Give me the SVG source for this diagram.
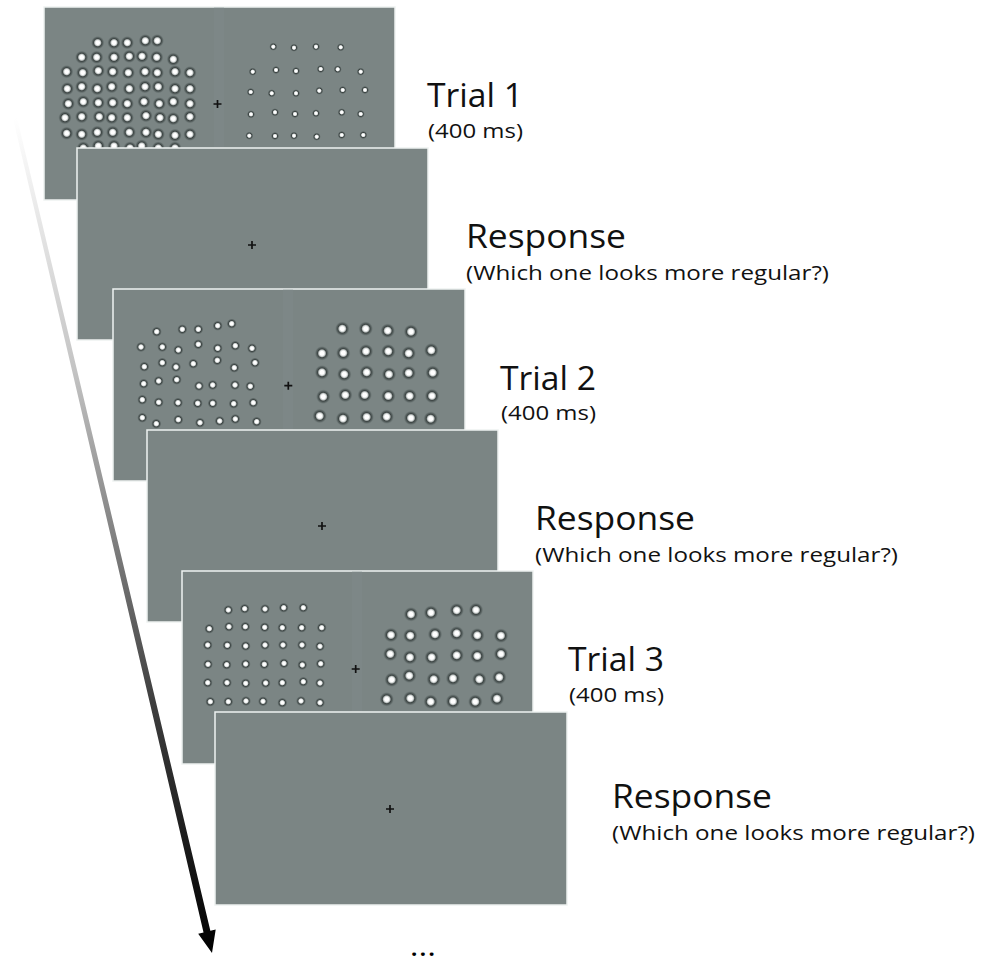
<svg xmlns="http://www.w3.org/2000/svg" width="992" height="957" viewBox="0 0 992 957">
<defs>
<radialGradient id="dot" cx="0.5" cy="0.5" r="0.5">
<stop offset="0" stop-color="#ffffff"/>
<stop offset="0.26" stop-color="#ffffff"/>
<stop offset="0.42" stop-color="#c9cecd"/>
<stop offset="0.58" stop-color="#3c4443"/>
<stop offset="0.78" stop-color="#56605f" stop-opacity="0.75"/>
<stop offset="1" stop-color="#7b8584" stop-opacity="0"/>
</radialGradient>
<linearGradient id="arrowGrad" gradientUnits="userSpaceOnUse" x1="15" y1="118" x2="212" y2="953">
<stop offset="0" stop-color="#ffffff"/>
<stop offset="0.3" stop-color="#c4c4c4"/>
<stop offset="0.7" stop-color="#3e3e3e"/>
<stop offset="1" stop-color="#000000"/>
</linearGradient>
</defs>
<style>
.panel{fill:#7b8584;stroke:#eef2f1;stroke-width:1.5}
.band{fill:#858f8e;opacity:0.25}
.fix{stroke:#111;stroke-width:1.7;fill:none}
.d{fill:url(#dot)}
.big{font-family:"Open Sans","Liberation Sans",sans-serif;font-size:32px;fill:#111}
.small{font-family:"Open Sans","Liberation Sans",sans-serif;font-size:20.5px;fill:#111}
.ell{font-family:"Open Sans","Liberation Sans",sans-serif;font-size:22px;font-weight:bold;fill:#000;letter-spacing:2.5px}
</style>
<rect width="992" height="957" fill="#ffffff"/>

<g id="connectors">
<polygon fill="url(#arrowGrad)" points="13.05,118.46 16.95,117.54 210.36,930.8 215.71,929.53 212,953 198.19,933.67 203.54,932.4"/>
</g>

<g id="trial1">
<rect class="panel" x="44" y="7" width="351" height="193"/>
<rect class="band" x="214" y="7" width="10" height="193"/>
<g class="d">
<circle cx="97.7" cy="42.7" r="7"/><circle cx="114" cy="42.7" r="7"/><circle cx="127.3" cy="42.7" r="7"/><circle cx="145.3" cy="40.7" r="7"/><circle cx="157.3" cy="40.7" r="7"/>
<circle cx="81.7" cy="57.3" r="7"/><circle cx="96.7" cy="57.3" r="7"/><circle cx="114" cy="57.3" r="7"/><circle cx="129.3" cy="56.3" r="7"/><circle cx="142" cy="56.3" r="7"/><circle cx="156.7" cy="57.3" r="7"/><circle cx="173.3" cy="59.3" r="7"/>
<circle cx="66.7" cy="71.7" r="7"/><circle cx="82.7" cy="72.7" r="7"/><circle cx="98.3" cy="70.7" r="7"/><circle cx="112.7" cy="71.7" r="7"/><circle cx="128.3" cy="72.7" r="7"/><circle cx="145" cy="71.7" r="7"/><circle cx="157.3" cy="72.7" r="7"/><circle cx="175" cy="71.7" r="7"/><circle cx="190" cy="72.7" r="7"/>
<circle cx="67.3" cy="88.7" r="7"/><circle cx="81.7" cy="86.7" r="7"/><circle cx="97.3" cy="88.7" r="7"/><circle cx="111.7" cy="86.7" r="7"/><circle cx="129.3" cy="88.7" r="7"/><circle cx="145" cy="86.7" r="7"/><circle cx="158.3" cy="86.7" r="7"/><circle cx="175" cy="88.7" r="7"/><circle cx="190" cy="88.7" r="7"/>
<circle cx="68.3" cy="103.7" r="7"/><circle cx="83.3" cy="101.7" r="7"/><circle cx="98.3" cy="102.7" r="7"/><circle cx="112.7" cy="102.7" r="7"/><circle cx="127.3" cy="103.7" r="7"/><circle cx="144" cy="101.7" r="7"/><circle cx="159.3" cy="103.7" r="7"/><circle cx="173.3" cy="101.7" r="7"/><circle cx="190" cy="103.7" r="7"/>
<circle cx="65" cy="117.7" r="7"/><circle cx="81.7" cy="116.7" r="7"/><circle cx="99.3" cy="116.7" r="7"/><circle cx="111.7" cy="117.7" r="7"/><circle cx="127.3" cy="117.7" r="7"/><circle cx="146" cy="115.7" r="7"/><circle cx="160" cy="117.7" r="7"/><circle cx="173.3" cy="118.7" r="7"/><circle cx="190" cy="116.7" r="7"/>
<circle cx="66.7" cy="133.3" r="7"/><circle cx="81.7" cy="134.3" r="7"/><circle cx="97.3" cy="132.3" r="7"/><circle cx="112.7" cy="132.3" r="7"/><circle cx="129.3" cy="132.3" r="7"/><circle cx="146" cy="132.3" r="7"/><circle cx="158.3" cy="134.3" r="7"/><circle cx="175" cy="135.3" r="7"/><circle cx="190" cy="134.3" r="7"/>
<circle cx="83.3" cy="148" r="7"/><circle cx="98.3" cy="146" r="7"/><circle cx="114" cy="146" r="7"/><circle cx="130" cy="148" r="7"/><circle cx="141.7" cy="146" r="7"/><circle cx="158.3" cy="148" r="7"/><circle cx="175" cy="148" r="7"/>
<circle cx="273.3" cy="46.7" r="4.3"/><circle cx="294" cy="47.7" r="4.3"/><circle cx="316" cy="46.7" r="4.3"/><circle cx="340.7" cy="47.3" r="4.3"/>
<circle cx="252.7" cy="71.7" r="4.3"/><circle cx="276" cy="70" r="4.3"/><circle cx="296" cy="71" r="4.3"/><circle cx="320.7" cy="69" r="4.3"/><circle cx="337.7" cy="69.3" r="4.3"/><circle cx="360.7" cy="71.7" r="4.3"/>
<circle cx="250.7" cy="92" r="4.3"/><circle cx="271.7" cy="93.3" r="4.3"/><circle cx="296" cy="93.3" r="4.3"/><circle cx="319.3" cy="90.7" r="4.3"/><circle cx="342.7" cy="90" r="4.3"/><circle cx="365" cy="90" r="4.3"/>
<circle cx="251" cy="114.3" r="4.3"/><circle cx="275" cy="112.3" r="4.3"/><circle cx="295" cy="114" r="4.3"/><circle cx="316" cy="113.3" r="4.3"/><circle cx="341.7" cy="112.3" r="4.3"/><circle cx="360.7" cy="114" r="4.3"/>
<circle cx="249.3" cy="135.7" r="4.3"/><circle cx="275" cy="136" r="4.3"/><circle cx="294" cy="135.7" r="4.3"/><circle cx="316.7" cy="136.7" r="4.3"/><circle cx="341.7" cy="135" r="4.3"/><circle cx="363.3" cy="135" r="4.3"/>
</g>
<path class="fix" d="M213.5 104H221.5M217.5 100V108"/>
<text class="big" x="427" y="107" textLength="96" lengthAdjust="spacingAndGlyphs">Trial 1</text>
<text class="small" x="428" y="138" textLength="95" lengthAdjust="spacingAndGlyphs">(400 ms)</text>
</g>

<g id="response1">
<rect class="panel" x="77" y="148" width="351" height="192"/>
<path class="fix" d="M248 245H256M252 241V249"/>
<text class="big" x="466" y="248" textLength="160" lengthAdjust="spacingAndGlyphs">Response</text>
<text class="small" x="466" y="280" textLength="363" lengthAdjust="spacingAndGlyphs">(Which one looks more regular?)</text>
</g>

<g id="trial2">
<rect class="panel" x="113" y="289" width="352" height="192"/>
<rect class="band" x="283" y="289" width="10" height="192"/>
<g class="d">
<circle cx="156.7" cy="331.7" r="5.4"/><circle cx="182.3" cy="329.3" r="5.4"/><circle cx="198.3" cy="329.3" r="5.4"/><circle cx="217.7" cy="325.7" r="5.4"/><circle cx="231.7" cy="323.7" r="5.4"/>
<circle cx="141" cy="347" r="5.4"/><circle cx="162.3" cy="347" r="5.4"/><circle cx="178.3" cy="350" r="5.4"/><circle cx="198.3" cy="344.3" r="5.4"/><circle cx="217.7" cy="348.3" r="5.4"/><circle cx="235.3" cy="345.7" r="5.4"/><circle cx="252" cy="348.3" r="5.4"/>
<circle cx="144.3" cy="366.7" r="5.4"/><circle cx="162.3" cy="362.7" r="5.4"/><circle cx="176" cy="367" r="5.4"/><circle cx="193.3" cy="363.7" r="5.4"/><circle cx="217.3" cy="360.3" r="5.4"/><circle cx="234.3" cy="367.7" r="5.4"/><circle cx="255" cy="362.7" r="5.4"/>
<circle cx="143.7" cy="383.7" r="5.4"/><circle cx="158.7" cy="381" r="5.4"/><circle cx="176.7" cy="379.7" r="5.4"/><circle cx="199" cy="386" r="5.4"/><circle cx="212.7" cy="385" r="5.4"/><circle cx="235" cy="385" r="5.4"/><circle cx="250.3" cy="386.3" r="5.4"/>
<circle cx="142.3" cy="399.7" r="5.4"/><circle cx="158.7" cy="402.3" r="5.4"/><circle cx="178" cy="402.7" r="5.4"/><circle cx="197.7" cy="403.3" r="5.4"/><circle cx="212.7" cy="403.3" r="5.4"/><circle cx="233.7" cy="403.7" r="5.4"/><circle cx="253.3" cy="402.7" r="5.4"/>
<circle cx="142.3" cy="417.7" r="5.4"/><circle cx="156.3" cy="423.7" r="5.4"/><circle cx="178.3" cy="419.7" r="5.4"/><circle cx="200" cy="422.7" r="5.4"/><circle cx="219.7" cy="421" r="5.4"/><circle cx="235.3" cy="419" r="5.4"/><circle cx="256.7" cy="421.7" r="5.4"/>
<circle cx="342.3" cy="328.7" r="7.6"/><circle cx="365.7" cy="328.7" r="7.6"/><circle cx="387.7" cy="330.7" r="7.6"/><circle cx="411" cy="331.7" r="7.6"/>
<circle cx="322" cy="353.3" r="7.6"/><circle cx="343.3" cy="353" r="7.6"/><circle cx="366" cy="351.3" r="7.6"/><circle cx="388.3" cy="351.3" r="7.6"/><circle cx="408.7" cy="353.3" r="7.6"/><circle cx="431.3" cy="350.3" r="7.6"/>
<circle cx="322" cy="372.3" r="7.6"/><circle cx="344.3" cy="374.3" r="7.6"/><circle cx="366.7" cy="372.3" r="7.6"/><circle cx="389" cy="374.3" r="7.6"/><circle cx="408.7" cy="373" r="7.6"/><circle cx="432.7" cy="372.7" r="7.6"/>
<circle cx="323.3" cy="396.7" r="7.6"/><circle cx="345.3" cy="395" r="7.6"/><circle cx="364.7" cy="395" r="7.6"/><circle cx="388.3" cy="396" r="7.6"/><circle cx="409.7" cy="396" r="7.6"/><circle cx="432" cy="396" r="7.6"/>
<circle cx="319.7" cy="416" r="7.6"/><circle cx="343" cy="418.7" r="7.6"/><circle cx="366.7" cy="417" r="7.6"/><circle cx="386.7" cy="416.7" r="7.6"/><circle cx="411" cy="418" r="7.6"/><circle cx="430.7" cy="418.7" r="7.6"/>
</g>
<path class="fix" d="M284.3 385.7H292.3M288.3 381.7V389.7"/>
<text class="big" x="500" y="390" textLength="96" lengthAdjust="spacingAndGlyphs">Trial 2</text>
<text class="small" x="501" y="420" textLength="95" lengthAdjust="spacingAndGlyphs">(400 ms)</text>
</g>

<g id="response2">
<rect class="panel" x="147" y="430" width="351" height="192"/>
<path class="fix" d="M318 526H326M322 522V530"/>
<text class="big" x="535" y="530" textLength="160" lengthAdjust="spacingAndGlyphs">Response</text>
<text class="small" x="535" y="562" textLength="363" lengthAdjust="spacingAndGlyphs">(Which one looks more regular?)</text>
</g>

<g id="trial3">
<rect class="panel" x="182" y="571" width="351" height="193"/>
<rect class="band" x="352" y="571" width="10" height="193"/>
<g class="d">
<circle cx="228.3" cy="610" r="5.3"/><circle cx="244.7" cy="608.7" r="5.3"/><circle cx="265" cy="609" r="5.3"/><circle cx="283.7" cy="607.7" r="5.3"/><circle cx="303.3" cy="607.7" r="5.3"/>
<circle cx="209.3" cy="628.7" r="5.3"/><circle cx="229" cy="626.7" r="5.3"/><circle cx="245.3" cy="626.7" r="5.3"/><circle cx="264.7" cy="627.3" r="5.3"/><circle cx="282.3" cy="627.7" r="5.3"/><circle cx="301.7" cy="627.7" r="5.3"/><circle cx="321.7" cy="627.7" r="5.3"/>
<circle cx="207.7" cy="645" r="5.3"/><circle cx="227.3" cy="645.3" r="5.3"/><circle cx="245.7" cy="646" r="5.3"/><circle cx="265" cy="645" r="5.3"/><circle cx="283" cy="645" r="5.3"/><circle cx="302" cy="645" r="5.3"/><circle cx="320" cy="646.3" r="5.3"/>
<circle cx="208" cy="664.3" r="5.3"/><circle cx="226.7" cy="664.7" r="5.3"/><circle cx="245.7" cy="664" r="5.3"/><circle cx="264.3" cy="664.3" r="5.3"/><circle cx="284" cy="663.3" r="5.3"/><circle cx="302.3" cy="665" r="5.3"/><circle cx="320.7" cy="663.7" r="5.3"/>
<circle cx="207.7" cy="682.7" r="5.3"/><circle cx="227" cy="682.7" r="5.3"/><circle cx="245.7" cy="683.3" r="5.3"/><circle cx="265.7" cy="683" r="5.3"/><circle cx="282.3" cy="682.7" r="5.3"/><circle cx="303.3" cy="681.7" r="5.3"/><circle cx="320" cy="683" r="5.3"/>
<circle cx="210.3" cy="701.7" r="5.3"/><circle cx="228.3" cy="701.7" r="5.3"/><circle cx="246" cy="701" r="5.3"/><circle cx="263" cy="701.3" r="5.3"/><circle cx="282.3" cy="702.7" r="5.3"/><circle cx="301" cy="701" r="5.3"/><circle cx="320" cy="702.7" r="5.3"/>
<circle cx="411" cy="614.3" r="7.6"/><circle cx="431" cy="612.7" r="7.6"/><circle cx="456.7" cy="610.3" r="7.6"/><circle cx="476" cy="610" r="7.6"/>
<circle cx="391" cy="635" r="7.6"/><circle cx="410.3" cy="635.7" r="7.6"/><circle cx="435" cy="634.3" r="7.6"/><circle cx="456.7" cy="633.3" r="7.6"/><circle cx="477.3" cy="635.3" r="7.6"/><circle cx="501" cy="635.7" r="7.6"/>
<circle cx="390.3" cy="654" r="7.6"/><circle cx="410" cy="657.3" r="7.6"/><circle cx="431.7" cy="657.3" r="7.6"/><circle cx="456.7" cy="655.3" r="7.6"/><circle cx="477.3" cy="656" r="7.6"/><circle cx="501" cy="654" r="7.6"/>
<circle cx="391.7" cy="679.7" r="7.6"/><circle cx="409.3" cy="675.7" r="7.6"/><circle cx="433.7" cy="679.3" r="7.6"/><circle cx="453" cy="678.3" r="7.6"/><circle cx="479.3" cy="679.3" r="7.6"/><circle cx="499.3" cy="677.3" r="7.6"/>
<circle cx="386.7" cy="699.3" r="7.6"/><circle cx="410.3" cy="698.3" r="7.6"/><circle cx="430.7" cy="701.7" r="7.6"/><circle cx="453" cy="701.3" r="7.6"/><circle cx="475.3" cy="701.7" r="7.6"/><circle cx="497" cy="698.7" r="7.6"/>
</g>
<path class="fix" d="M351.7 669H359.7M355.7 665V673"/>
<text class="big" x="568" y="671" textLength="96" lengthAdjust="spacingAndGlyphs">Trial 3</text>
<text class="small" x="569" y="702" textLength="95" lengthAdjust="spacingAndGlyphs">(400 ms)</text>
</g>

<g id="response3">
<rect class="panel" x="215" y="712" width="352" height="193"/>
<path class="fix" d="M386 809H394M390 805V813"/>
<text class="big" x="612" y="808" textLength="160" lengthAdjust="spacingAndGlyphs">Response</text>
<text class="small" x="612" y="840" textLength="363" lengthAdjust="spacingAndGlyphs">(Which one looks more regular?)</text>
</g>

<g id="ellipsis">
<text class="ell" x="411" y="956">...</text>
</g>
</svg>
